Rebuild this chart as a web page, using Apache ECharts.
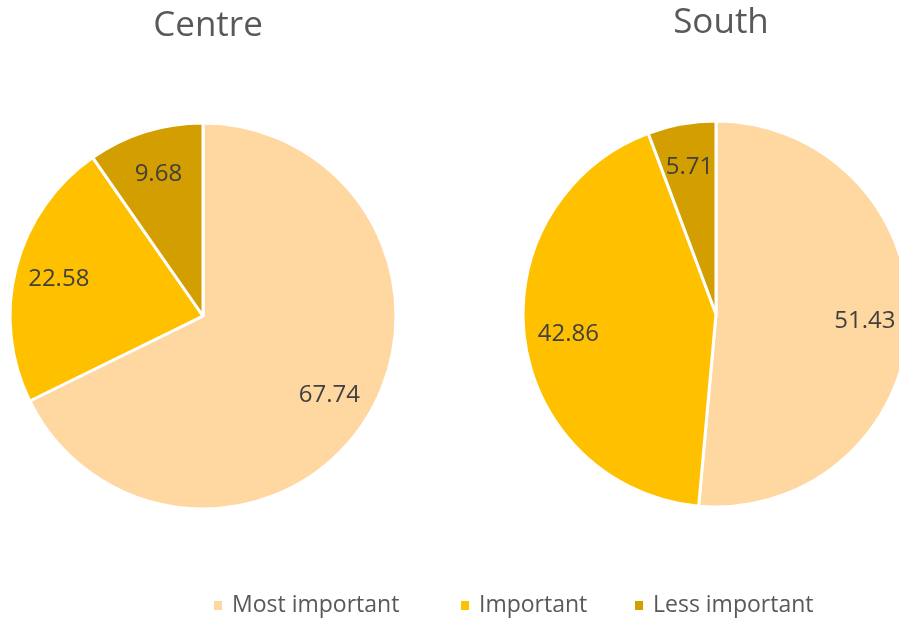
<!DOCTYPE html>
<html>
<head>
<meta charset="utf-8">
<script src="https://cdn.jsdelivr.net/npm/echarts@6/dist/echarts.min.js"></script>
<style>
  html, body { margin: 0; padding: 0; background: #fff; }
  #chart { width: 899px; height: 618px; }
</style>
</head>
<body>
<div id="chart"></div>
<script>
const categories = ['Most important', 'Important', 'Less important'];
const centreValues = [67.74, 22.58, 9.68];
const southValues = [51.43, 42.86, 5.71];
const regions = ['Centre', 'South'];

const colors = ['#FFD7A0', '#FFC000', '#D29E00'];
const font = '"Open Sans", sans-serif';

const myChart = echarts.init(document.getElementById('chart'));

function toData(values) {
  return categories.map((name, i) => ({ name: name, value: values[i] }));
}

// slices
function pieSeries(values, center) {
  return {
    type: 'pie',
    center: center,
    radius: 193,
    startAngle: 90,
    clockwise: true,
    silent: true,
    itemStyle: { borderColor: '#fff', borderWidth: 3 },
    label: { show: false },
    labelLine: { show: false },
    data: toData(values)
  };
}

// transparent copy only used to push the inside labels outward
function labelSeries(values, center) {
  return {
    type: 'pie',
    center: center,
    radius: 292,
    startAngle: 90,
    clockwise: true,
    silent: true,
    itemStyle: { color: 'transparent' },
    label: {
      show: true,
      position: 'inside',
      formatter: (p) => p.value.toFixed(2),
      color: '#404040',
      fontSize: 24,
      fontFamily: font
    },
    labelLine: { show: false },
    data: toData(values)
  };
}

// one legend per item so each sits where the original has it
const legendLeft = [212, 459, 633];
const legends = categories.map((name, i) => ({
  data: [name],
  left: legendLeft[i],
  top: 589,
  padding: [5, 0, 5, 0],
  icon: 'rect',
  itemWidth: 10,
  itemHeight: 11,
  textStyle: { color: '#595959', fontSize: 23, fontFamily: font, padding: [0, 0, 0, 4] }
}));

const centers = [[203, 316], [716, 314]];

const option = {
  color: colors,
  animation: false,
  title: [
    {
      text: regions[0],
      left: 203,
      top: 4,
      textAlign: 'center',
      textStyle: { color: '#595959', fontSize: 35, fontWeight: 'normal', fontFamily: font }
    },
    {
      text: regions[1],
      left: 716,
      top: 1,
      textAlign: 'center',
      textStyle: { color: '#595959', fontSize: 35, fontWeight: 'normal', fontFamily: font }
    }
  ],
  legend: legends,
  series: [
    pieSeries(centreValues, centers[0]),
    pieSeries(southValues, centers[1]),
    labelSeries(centreValues, centers[0]),
    labelSeries(southValues, centers[1])
  ]
};

myChart.setOption(option);
window.addEventListener('resize', myChart.resize);
</script>
</body>
</html>
